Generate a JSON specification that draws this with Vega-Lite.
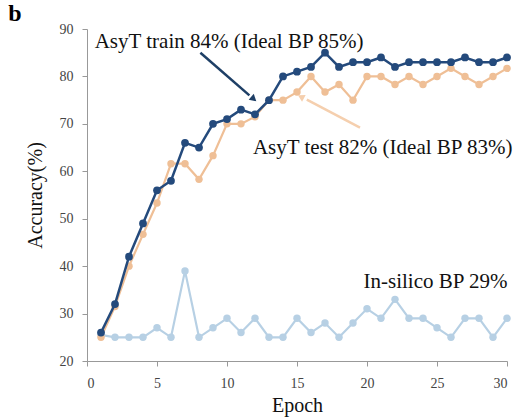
{
  "$schema": "https://vega.github.io/schema/vega-lite/v6.json",
  "autosize": "none",
  "width": 420,
  "height": 332,
  "padding": {"left": 87, "top": 29, "right": 7, "bottom": 58},
  "background": "white",
  "config": {"view": {"stroke": null}, "font": "Liberation Serif"},
  "datasets": {
    "acc": [
      {"epoch": 1, "series": "train", "acc": 26}, {"epoch": 2, "series": "train", "acc": 32}, {"epoch": 3, "series": "train", "acc": 42}, {"epoch": 4, "series": "train", "acc": 49}, {"epoch": 5, "series": "train", "acc": 56}, {"epoch": 6, "series": "train", "acc": 58}, {"epoch": 7, "series": "train", "acc": 66}, {"epoch": 8, "series": "train", "acc": 65}, {"epoch": 9, "series": "train", "acc": 70}, {"epoch": 10, "series": "train", "acc": 71}, {"epoch": 11, "series": "train", "acc": 73}, {"epoch": 12, "series": "train", "acc": 72}, {"epoch": 13, "series": "train", "acc": 75}, {"epoch": 14, "series": "train", "acc": 80}, {"epoch": 15, "series": "train", "acc": 81}, {"epoch": 16, "series": "train", "acc": 82}, {"epoch": 17, "series": "train", "acc": 85}, {"epoch": 18, "series": "train", "acc": 82}, {"epoch": 19, "series": "train", "acc": 83}, {"epoch": 20, "series": "train", "acc": 83}, {"epoch": 21, "series": "train", "acc": 84}, {"epoch": 22, "series": "train", "acc": 82}, {"epoch": 23, "series": "train", "acc": 83}, {"epoch": 24, "series": "train", "acc": 83}, {"epoch": 25, "series": "train", "acc": 83}, {"epoch": 26, "series": "train", "acc": 83}, {"epoch": 27, "series": "train", "acc": 84}, {"epoch": 28, "series": "train", "acc": 83}, {"epoch": 29, "series": "train", "acc": 83}, {"epoch": 30, "series": "train", "acc": 84},
      {"epoch": 1, "series": "test", "acc": 25}, {"epoch": 2, "series": "test", "acc": 31.5}, {"epoch": 3, "series": "test", "acc": 40}, {"epoch": 4, "series": "test", "acc": 46.7}, {"epoch": 5, "series": "test", "acc": 53.3}, {"epoch": 6, "series": "test", "acc": 61.6}, {"epoch": 7, "series": "test", "acc": 61.6}, {"epoch": 8, "series": "test", "acc": 58.3}, {"epoch": 9, "series": "test", "acc": 63.3}, {"epoch": 10, "series": "test", "acc": 70}, {"epoch": 11, "series": "test", "acc": 70}, {"epoch": 12, "series": "test", "acc": 71.5}, {"epoch": 13, "series": "test", "acc": 75}, {"epoch": 14, "series": "test", "acc": 75}, {"epoch": 15, "series": "test", "acc": 76.7}, {"epoch": 16, "series": "test", "acc": 80}, {"epoch": 17, "series": "test", "acc": 76.7}, {"epoch": 18, "series": "test", "acc": 78.3}, {"epoch": 19, "series": "test", "acc": 75}, {"epoch": 20, "series": "test", "acc": 80}, {"epoch": 21, "series": "test", "acc": 80}, {"epoch": 22, "series": "test", "acc": 78.3}, {"epoch": 23, "series": "test", "acc": 80}, {"epoch": 24, "series": "test", "acc": 78.3}, {"epoch": 25, "series": "test", "acc": 80}, {"epoch": 26, "series": "test", "acc": 81.7}, {"epoch": 27, "series": "test", "acc": 80}, {"epoch": 28, "series": "test", "acc": 78.3}, {"epoch": 29, "series": "test", "acc": 80}, {"epoch": 30, "series": "test", "acc": 81.7},
      {"epoch": 1, "series": "insilico", "acc": 25.5}, {"epoch": 2, "series": "insilico", "acc": 25}, {"epoch": 3, "series": "insilico", "acc": 25}, {"epoch": 4, "series": "insilico", "acc": 25}, {"epoch": 5, "series": "insilico", "acc": 27}, {"epoch": 6, "series": "insilico", "acc": 25}, {"epoch": 7, "series": "insilico", "acc": 39}, {"epoch": 8, "series": "insilico", "acc": 25}, {"epoch": 9, "series": "insilico", "acc": 27}, {"epoch": 10, "series": "insilico", "acc": 29}, {"epoch": 11, "series": "insilico", "acc": 26}, {"epoch": 12, "series": "insilico", "acc": 29}, {"epoch": 13, "series": "insilico", "acc": 25}, {"epoch": 14, "series": "insilico", "acc": 25}, {"epoch": 15, "series": "insilico", "acc": 29}, {"epoch": 16, "series": "insilico", "acc": 26}, {"epoch": 17, "series": "insilico", "acc": 28}, {"epoch": 18, "series": "insilico", "acc": 25}, {"epoch": 19, "series": "insilico", "acc": 28}, {"epoch": 20, "series": "insilico", "acc": 31}, {"epoch": 21, "series": "insilico", "acc": 29}, {"epoch": 22, "series": "insilico", "acc": 33}, {"epoch": 23, "series": "insilico", "acc": 29}, {"epoch": 24, "series": "insilico", "acc": 29}, {"epoch": 25, "series": "insilico", "acc": 27}, {"epoch": 26, "series": "insilico", "acc": 25}, {"epoch": 27, "series": "insilico", "acc": 29}, {"epoch": 28, "series": "insilico", "acc": 29}, {"epoch": 29, "series": "insilico", "acc": 25}, {"epoch": 30, "series": "insilico", "acc": 29}
    ],
    "labels": [
      {"x": 0.55, "y": 87.3, "text": "AsyT train 84% (Ideal BP 85%)"},
      {"x": 11.85, "y": 65.0, "text": "AsyT test 82% (Ideal BP 83%)"},
      {"x": 19.75, "y": 36.6, "text": "In-silico BP 29%"}
    ],
    "panel": [
      {"x": -5.15, "y": 93.1, "text": "b"}
    ],
    "arrows": [
      {"x": 8.1, "y": 85.0, "x2": 11.6, "y2": 76.0, "hx": 11.85, "hy": 75.4, "angle": 131, "series": "train"},
      {"x": 19.5, "y": 69.2, "x2": 15.7, "y2": 75.1, "hx": 15.35, "hy": 75.6, "angle": 298, "series": "test"}
    ]
  },
  "layer": [
    {
      "data": {"name": "acc"},
      "transform": [{"filter": "datum.series === 'insilico'"}],
      "mark": {"type": "line", "color": "#b7d0e4", "strokeWidth": 2.2},
      "encoding": {
        "x": {"field": "epoch", "type": "quantitative", "scale": {"domain": [0, 30], "nice": false},
          "axis": {"values": [0, 5, 10, 15, 20, 25, 30], "title": "Epoch", "grid": false, "domainColor": "#999", "tickColor": "#999", "tickSize": 5, "labelPadding": 10, "labelFont": "Liberation Serif", "labelFontSize": 14, "labelColor": "#444", "titleFont": "Liberation Serif", "titleFontSize": 20, "titleFontWeight": "normal", "titleColor": "#111", "titlePadding": 5}},
        "y": {"field": "acc", "type": "quantitative", "scale": {"domain": [20, 90], "nice": false, "zero": false},
          "axis": {"values": [20, 30, 40, 50, 60, 70, 80, 90], "title": "Accuracy(%)", "grid": false, "domainColor": "#999", "tickColor": "#999", "tickSize": 5, "labelPadding": 9, "labelFont": "Liberation Serif", "labelFontSize": 14, "labelColor": "#444", "titleFont": "Liberation Serif", "titleFontSize": 20, "titleFontWeight": "normal", "titleColor": "#111", "titlePadding": 14}}
      }
    },
    {
      "data": {"name": "acc"},
      "transform": [{"filter": "datum.series === 'insilico'"}],
      "mark": {"type": "point", "filled": true, "opacity": 1, "color": "#b7d0e4", "size": 55},
      "encoding": {"x": {"field": "epoch", "type": "quantitative"}, "y": {"field": "acc", "type": "quantitative"}}
    },
    {
      "data": {"name": "acc"},
      "transform": [{"filter": "datum.series === 'test'"}],
      "mark": {"type": "line", "color": "#efbf96", "strokeWidth": 2.2},
      "encoding": {"x": {"field": "epoch", "type": "quantitative"}, "y": {"field": "acc", "type": "quantitative"}}
    },
    {
      "data": {"name": "acc"},
      "transform": [{"filter": "datum.series === 'test'"}],
      "mark": {"type": "point", "filled": true, "opacity": 1, "color": "#efbf96", "size": 55},
      "encoding": {"x": {"field": "epoch", "type": "quantitative"}, "y": {"field": "acc", "type": "quantitative"}}
    },
    {
      "data": {"name": "acc"},
      "transform": [{"filter": "datum.series === 'train'"}],
      "mark": {"type": "line", "color": "#244a7c", "strokeWidth": 2.5},
      "encoding": {"x": {"field": "epoch", "type": "quantitative"}, "y": {"field": "acc", "type": "quantitative"}}
    },
    {
      "data": {"name": "acc"},
      "transform": [{"filter": "datum.series === 'train'"}],
      "mark": {"type": "point", "filled": true, "opacity": 1, "color": "#244a7c", "size": 60},
      "encoding": {"x": {"field": "epoch", "type": "quantitative"}, "y": {"field": "acc", "type": "quantitative"}}
    },
    {
      "data": {"name": "arrows"},
      "mark": {"type": "rule", "strokeWidth": 2.5},
      "encoding": {
        "x": {"field": "x", "type": "quantitative"}, "y": {"field": "y", "type": "quantitative"},
        "x2": {"field": "x2"}, "y2": {"field": "y2"},
        "color": {"field": "series", "type": "nominal", "scale": {"domain": ["train", "test"], "range": ["#1e3f66", "#f5cfae"]}, "legend": null}
      }
    },
    {
      "data": {"name": "arrows"},
      "mark": {"type": "point", "shape": "triangle", "filled": true, "opacity": 1, "size": 60},
      "encoding": {
        "x": {"field": "hx", "type": "quantitative"}, "y": {"field": "hy", "type": "quantitative"},
        "angle": {"field": "angle", "type": "quantitative", "scale": null},
        "color": {"field": "series", "type": "nominal", "legend": null}
      }
    },
    {
      "data": {"name": "labels"},
      "mark": {"type": "text", "align": "left", "baseline": "middle", "font": "Liberation Serif", "fontSize": 21, "color": "#111"},
      "encoding": {
        "x": {"field": "x", "type": "quantitative"}, "y": {"field": "y", "type": "quantitative"},
        "text": {"field": "text"}
      }
    },
    {
      "data": {"name": "panel"},
      "mark": {"type": "text", "align": "center", "baseline": "middle", "font": "Liberation Serif", "fontSize": 24, "fontWeight": "bold", "color": "#000"},
      "encoding": {
        "x": {"field": "x", "type": "quantitative"}, "y": {"field": "y", "type": "quantitative"},
        "text": {"field": "text"}
      }
    }
  ]
}
